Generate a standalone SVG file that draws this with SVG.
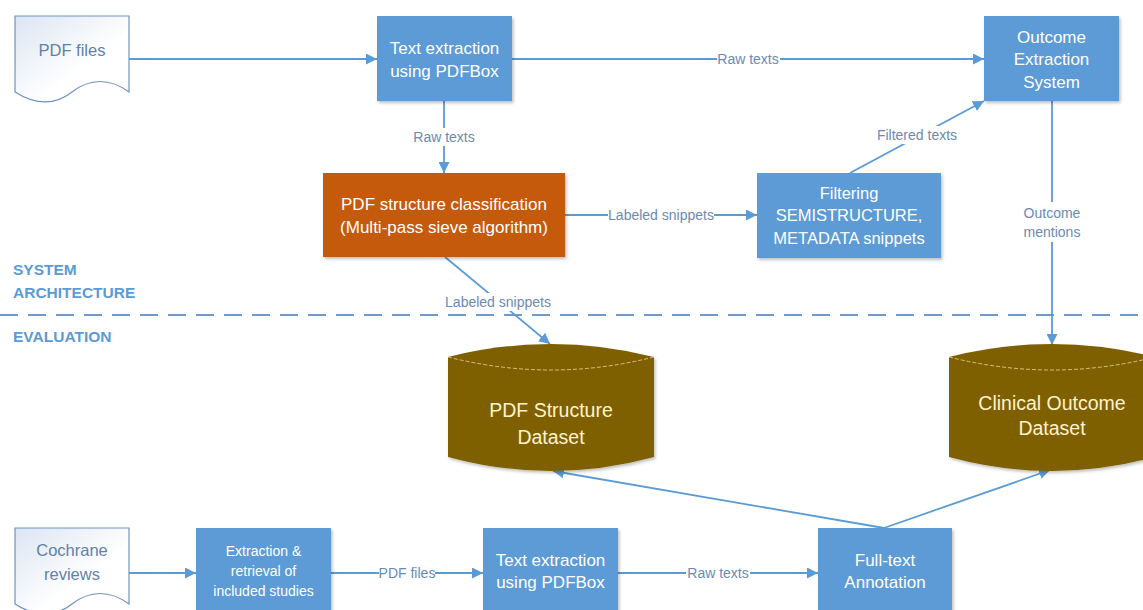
<svg xmlns="http://www.w3.org/2000/svg" width="1143" height="610" viewBox="0 0 1143 610">
<defs>
  <linearGradient id="docGrad" x1="0" y1="0" x2="1" y2="1">
    <stop offset="0" stop-color="#dce5f2"/>
    <stop offset="0.6" stop-color="#ffffff"/>
  </linearGradient>
  <filter id="shadow" x="-10%" y="-10%" width="130%" height="130%">
    <feDropShadow dx="1.5" dy="2" stdDeviation="1.5" flood-color="#000" flood-opacity="0.25"/>
  </filter>
  <marker id="arrow" viewBox="0 0 10 10" refX="10" refY="5" markerWidth="11" markerHeight="11" markerUnits="userSpaceOnUse" orient="auto">
    <path d="M0,0 L10,5 L0,10 Z" fill="#5b9bd5"/>
  </marker>
</defs>
<style>
  text { font-family: "Liberation Sans", Arial, sans-serif; text-anchor: middle; }
  .box { fill: #5b9bd5; filter: url(#shadow); }
  .orange { fill: #c55a11; filter: url(#shadow); }
  .cyl { fill: #7f6000; filter: url(#shadow); }
  .cylline { fill: none; stroke: #e8d89a; stroke-width: 0.8; stroke-dasharray: 4 2; }
  .doc { fill: url(#docGrad); stroke: #6f93c0; stroke-width: 1.2; }
  .wt { fill: #ffffff; font-size: 17px; }
  .wts { fill: #ffffff; font-size: 14px; }
  .cyt { fill: #fff2cc; font-size: 19.5px; }
  .doct { fill: #5f82aa; font-size: 16.5px; }
  .lbl { fill: #6a8bb3; font-size: 14px; }
  .sec { fill: #5b9bd5; font-size: 15.5px; font-weight: bold; text-anchor: start; }
  .conn { stroke: #5b9bd5; stroke-width: 1.8; fill: none; }
  .lblbg { fill: #ffffff; }
</style>

<!-- section divider -->
<g id="sections">
  <line x1="0" y1="315" x2="1143" y2="315" stroke="#6a9bcc" stroke-width="2" stroke-dasharray="18 10"/>
  <text class="sec" x="13" y="275">SYSTEM</text>
  <text class="sec" x="13" y="298">ARCHITECTURE</text>
  <text class="sec" x="13" y="342">EVALUATION</text>
</g>

<!-- connectors -->
<g id="connectors">
  <line class="conn" x1="129" y1="59" x2="377" y2="59" marker-end="url(#arrow)"/>
  <line class="conn" x1="512" y1="59" x2="984" y2="59" marker-end="url(#arrow)"/>
  <line class="conn" x1="444" y1="101" x2="444" y2="173" marker-end="url(#arrow)"/>
  <line class="conn" x1="565" y1="215" x2="757" y2="215" marker-end="url(#arrow)"/>
  <line class="conn" x1="850" y1="173" x2="984" y2="101" marker-end="url(#arrow)"/>
  <line class="conn" x1="1052" y1="101" x2="1052" y2="345" marker-end="url(#arrow)"/>
  <line class="conn" x1="445" y1="257" x2="550" y2="344" marker-end="url(#arrow)"/>
  <line class="conn" x1="884" y1="528" x2="553" y2="471" marker-end="url(#arrow)"/>
  <line class="conn" x1="884" y1="528" x2="1050" y2="470" marker-end="url(#arrow)"/>
  <line class="conn" x1="129" y1="573" x2="196" y2="573" marker-end="url(#arrow)"/>
  <line class="conn" x1="331" y1="573" x2="483" y2="573" marker-end="url(#arrow)"/>
  <line class="conn" x1="618" y1="573" x2="818" y2="573" marker-end="url(#arrow)"/>

  <rect class="lblbg" x="717" y="50" width="63" height="18"/>
  <text class="lbl" x="748" y="64">Raw texts</text>
  <rect class="lblbg" x="412" y="128" width="64" height="18"/>
  <text class="lbl" x="444" y="142">Raw texts</text>
  <rect class="lblbg" x="608" y="206" width="106" height="18"/>
  <text class="lbl" x="661" y="220">Labeled snippets</text>
  <rect class="lblbg" x="873" y="126" width="88" height="18"/>
  <text class="lbl" x="917" y="140">Filtered texts</text>
  <rect class="lblbg" x="1020" y="202" width="64" height="40"/>
  <text class="lbl" x="1052" y="218">Outcome</text>
  <text class="lbl" x="1052" y="237">mentions</text>
  <rect class="lblbg" x="444" y="293" width="108" height="18"/>
  <text class="lbl" x="498" y="307">Labeled snippets</text>
  <rect class="lblbg" x="379" y="564" width="56" height="18"/>
  <text class="lbl" x="407" y="578">PDF files</text>
  <rect class="lblbg" x="686" y="564" width="64" height="18"/>
  <text class="lbl" x="718" y="578">Raw texts</text>
</g>

<!-- nodes -->
<g id="pdf-files">
  <path class="doc" d="M15,16 H129 V92 C110,78 90,78 72,92 C54,106 34,104 15,92 Z"/>
  <text class="doct" x="72" y="56">PDF files</text>
</g>

<g id="text-extraction-1">
  <rect class="box" x="377" y="16" width="135" height="85"/>
  <text class="wt" x="444.5" y="54">Text extraction</text>
  <text class="wt" x="444.5" y="77">using PDFBox</text>
</g>

<g id="outcome-extraction-system">
  <rect class="box" x="984" y="16" width="135" height="85"/>
  <text class="wt" x="1051.5" y="43">Outcome</text>
  <text class="wt" x="1051.5" y="65">Extraction</text>
  <text class="wt" x="1051.5" y="88">System</text>
</g>

<g id="pdf-structure-classification">
  <rect class="orange" x="323" y="173" width="242" height="84"/>
  <text class="wt" x="444" y="210">PDF structure classification</text>
  <text class="wt" x="444" y="233">(Multi-pass sieve algorithm)</text>
</g>

<g id="filtering">
  <rect class="box" x="757" y="173" width="184" height="85"/>
  <text class="wt" x="849" y="199" style="font-size:16.5px">Filtering</text>
  <text class="wt" x="849" y="221" style="font-size:16.5px">SEMISTRUCTURE,</text>
  <text class="wt" x="849" y="244" style="font-size:16.5px">METADATA snippets</text>
</g>

<g id="pdf-structure-dataset">
  <path class="cyl" d="M448,357 Q551,331 654,357 V457 Q551,485 448,457 Z"/>
  <path class="cylline" d="M448,357 Q551,383 654,357"/>
  <text class="cyt" x="551" y="417">PDF Structure</text>
  <text class="cyt" x="551" y="444">Dataset</text>
</g>

<g id="clinical-outcome-dataset">
  <path class="cyl" d="M949,357 Q1052,331 1155,357 V457 Q1052,485 949,457 Z"/>
  <path class="cylline" d="M949,357 Q1052,383 1155,357"/>
  <text class="cyt" x="1052" y="410">Clinical Outcome</text>
  <text class="cyt" x="1052" y="435">Dataset</text>
</g>

<g id="cochrane-reviews">
  <path class="doc" d="M15,528 H129 V604 C110,590 90,590 72,604 C54,618 34,616 15,604 Z"/>
  <text class="doct" x="72" y="556">Cochrane</text>
  <text class="doct" x="72" y="580">reviews</text>
</g>

<g id="extraction-retrieval">
  <rect class="box" x="196" y="528" width="135" height="86"/>
  <text class="wts" x="263.5" y="556">Extraction &amp;</text>
  <text class="wts" x="263.5" y="576">retrieval of</text>
  <text class="wts" x="263.5" y="596">included studies</text>
</g>

<g id="text-extraction-2">
  <rect class="box" x="483" y="528" width="135" height="86"/>
  <text class="wt" x="550.5" y="566">Text extraction</text>
  <text class="wt" x="550.5" y="588">using PDFBox</text>
</g>

<g id="full-text-annotation">
  <rect class="box" x="818" y="528" width="134" height="86"/>
  <text class="wt" x="885" y="566">Full-text</text>
  <text class="wt" x="885" y="588">Annotation</text>
</g>
</svg>
